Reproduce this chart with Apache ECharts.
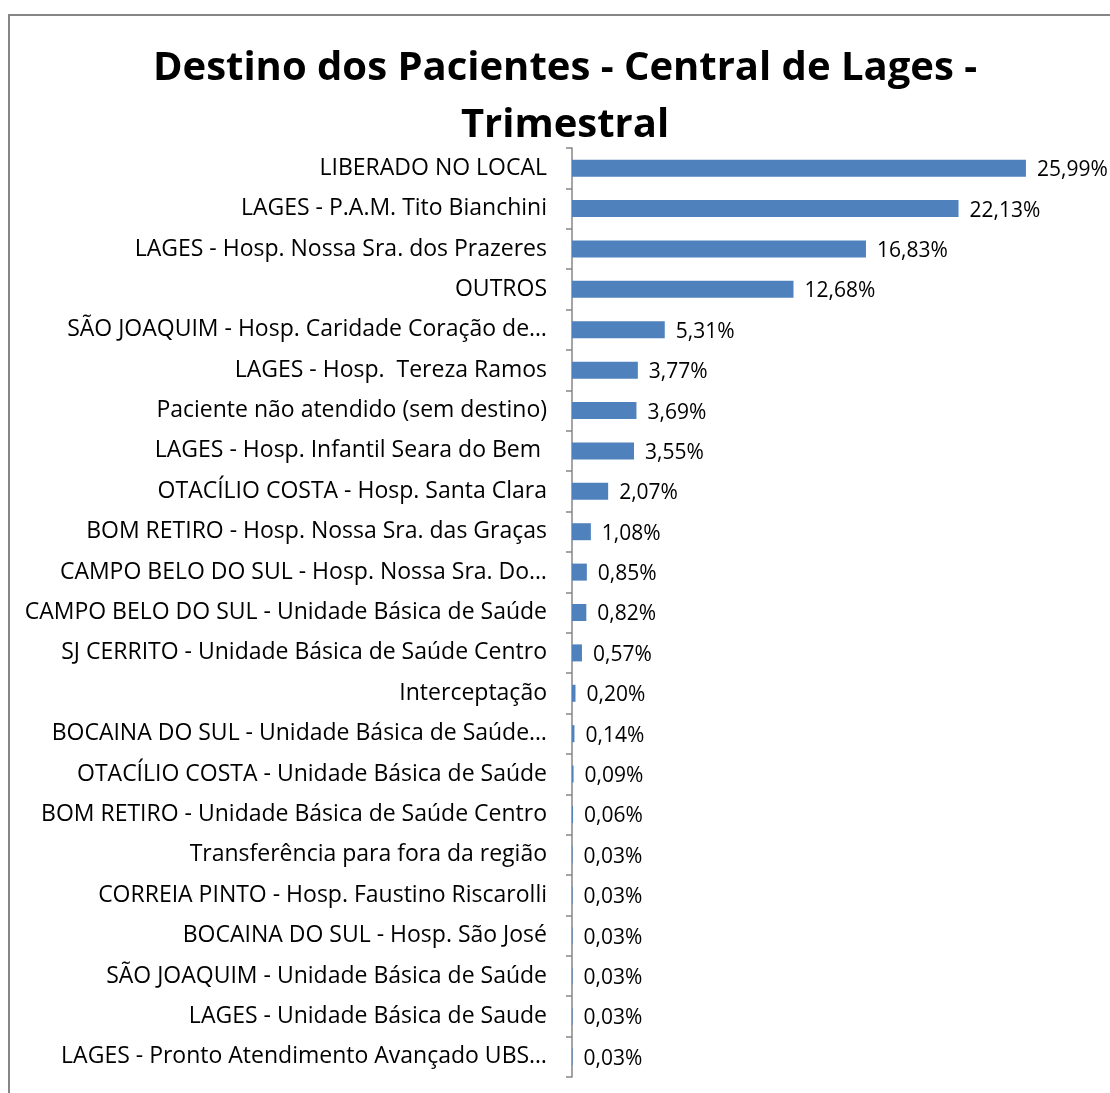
<!DOCTYPE html>
<html>
<head>
<meta charset="utf-8">
<script src="https://cdn.jsdelivr.net/npm/echarts@6/dist/echarts.min.js"></script>
<style>
html,body{margin:0;padding:0;background:#fff;}
#chart{width:1110px;height:1093px;}
</style>
</head>
<body>
<div id="chart"></div>
<script>
const titleText = 'Destino dos Pacientes - Central de Lages -\nTrimestral';
const categories = [
  'LIBERADO NO LOCAL',
  'LAGES - P.A.M. Tito Bianchini',
  'LAGES - Hosp. Nossa Sra. dos Prazeres',
  'OUTROS',
  'SÃO JOAQUIM - Hosp. Caridade Coração de…',
  'LAGES - Hosp.  Tereza Ramos',
  'Paciente não atendido (sem destino)',
  'LAGES - Hosp. Infantil Seara do Bem ',
  'OTACÍLIO COSTA - Hosp. Santa Clara',
  'BOM RETIRO - Hosp. Nossa Sra. das Graças',
  'CAMPO BELO DO SUL - Hosp. Nossa Sra. Do…',
  'CAMPO BELO DO SUL - Unidade Básica de Saúde',
  'SJ CERRITO - Unidade Básica de Saúde Centro',
  'Interceptação',
  'BOCAINA DO SUL - Unidade Básica de Saúde…',
  'OTACÍLIO COSTA - Unidade Básica de Saúde',
  'BOM RETIRO - Unidade Básica de Saúde Centro',
  'Transferência para fora da região',
  'CORREIA PINTO - Hosp. Faustino Riscarolli',
  'BOCAINA DO SUL - Hosp. São José',
  'SÃO JOAQUIM - Unidade Básica de Saúde',
  'LAGES - Unidade Básica de Saude',
  'LAGES - Pronto Atendimento Avançado UBS…'
];
const percentages = [25.99, 22.13, 16.83, 12.68, 5.31, 3.77, 3.69, 3.55, 2.07, 1.08, 0.85, 0.82, 0.57, 0.20, 0.14, 0.09, 0.06, 0.03, 0.03, 0.03, 0.03, 0.03, 0.03];

const chart = echarts.init(document.getElementById('chart'));
const font = '"Open Sans", sans-serif';
chart.setOption({
  backgroundColor: '#ffffff',
  animation: false,
  graphic: [{
    type: 'rect',
    shape: { x: 9, y: 15, width: 1200, height: 1200 },
    style: { fill: 'none', stroke: '#868686', lineWidth: 2 },
    silent: true
  }],
  title: {
    text: titleText,
    left: 565,
    top: 40,
    padding: 0,
    textAlign: 'center',
    textStyle: { fontFamily: font, fontWeight: 'bold', fontSize: 40, lineHeight: 57, color: '#000' }
  },
  grid: { left: 572, top: 148, bottom: 16, right: 14, containLabel: false },
  xAxis: {
    type: 'value', min: 0, max: 30, show: false
  },
  yAxis: {
    type: 'category',
    data: categories,
    inverse: true,
    axisLine: { show: true, lineStyle: { color: '#868686', width: 1.5 } },
    axisTick: { show: true, length: 6, alignWithLabel: false, lineStyle: { color: '#868686', width: 1.5 } },
    axisLabel: { fontFamily: font, fontSize: 23, color: '#000', margin: 25, interval: 0 },
    splitLine: { show: false }
  },
  series: [{
    type: 'bar',
    data: percentages,
    barWidth: 17,
    itemStyle: { color: '#4F81BD' },
    label: {
      show: true,
      position: 'right',
      distance: 11,
      fontFamily: font,
      fontSize: 21,
      color: '#000',
      offset: [0, 2],
      formatter: p => p.value.toFixed(2).replace('.', ',') + '%'
    }
  }]
});
</script>
</body>
</html>
